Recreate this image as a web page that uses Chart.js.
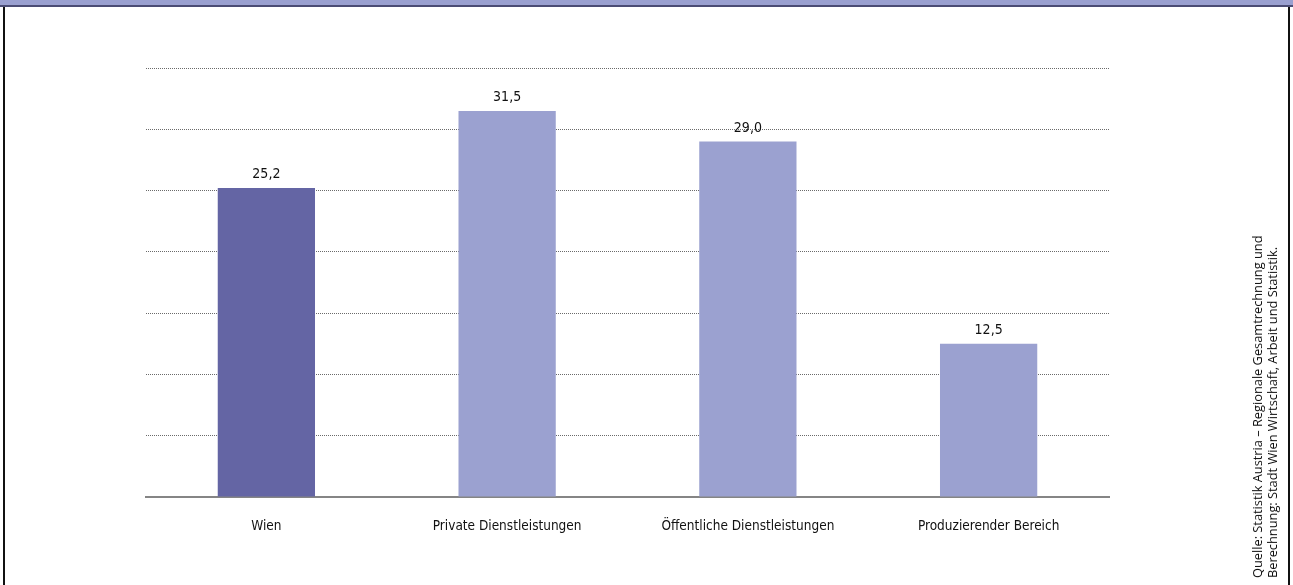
<!DOCTYPE html>
<html lang="de">
<head>
<meta charset="utf-8">
<title>Wien – Anteile</title>
<script src="https://cdn.jsdelivr.net/npm/chart.js@4/dist/chart.umd.min.js"></script>
<style>
  html, body { margin: 0; padding: 0; background: #fff; }
  body { width: 1293px; height: 585px; position: relative; overflow: hidden; }
  .header { position: absolute; left: 0; top: 0; width: 1293px; height: 5px; background: #9aa0d0; border-bottom: 2px solid #4b4c74; }
  .frame-l { position: absolute; left: 3px; top: 7px; width: 2px; height: 578px; background: #111; }
  .frame-r { position: absolute; left: 1288px; top: 7px; width: 2px; height: 578px; background: #111; }
  .wrap { position: absolute; left: 0; top: 0; width: 1293px; height: 585px; }
  .source {
    position: absolute; left: 1250px; top: 578px;
    transform-origin: 0 0; transform: rotate(-90deg);
    white-space: nowrap; font: 12.8px "Open Sans", sans-serif; line-height: 15px; color: #111;
  }
</style>
</head>
<body>
<div class="header"></div>
<div class="frame-l"></div>
<div class="frame-r"></div>
<div class="wrap"><canvas id="chart"></canvas></div>
<div class="source">Quelle: Statistik Austria – Regionale Gesamtrechnung und<br>Berechnung: Stadt Wien Wirtschaft, Arbeit und Statistik.</div>
<script>
const categories = ["Wien", "Private Dienstleistungen", "Öffentliche Dienstleistungen", "Produzierender Bereich"];
const values = [25.2, 31.5, 29.0, 12.5];
const barColors = ["#6465a4", "#9ba1d0", "#9ba1d0", "#9ba1d0"];
const yTicks = [0, 5, 10, 15, 20, 25, 30, 35];

const FONT = '"Liberation Sans Narrow", "DejaVu Sans Condensed", sans-serif';
const decimal = new Intl.NumberFormat("de-AT", { minimumFractionDigits: 1, maximumFractionDigits: 1 });

const valueLabels = {
  id: "valueLabels",
  afterDatasetsDraw(chart) {
    const { ctx } = chart;
    const meta = chart.getDatasetMeta(0);
    ctx.save();
    ctx.font = `14px ${FONT}`;
    ctx.fillStyle = "#111";
    ctx.textAlign = "center";
    ctx.textBaseline = "alphabetic";
    meta.data.forEach((bar, i) => {
      ctx.fillText(decimal.format(values[i]), bar.x, bar.y - 10);
    });
    ctx.restore();
  },
};

new Chart(document.getElementById("chart"), {
  type: "bar",
  data: {
    labels: categories,
    datasets: [
      {
        data: values,
        backgroundColor: barColors,
        borderWidth: 0,
        barPercentage: 0.404,
        categoryPercentage: 1,
      },
    ],
  },
  options: {
    responsive: true,
    maintainAspectRatio: false,
    animation: false,
    layout: { padding: { left: 146, right: 184, top: 68, bottom: 0 } },
    plugins: {
      legend: { display: false },
      tooltip: { enabled: false },
    },
    scales: {
      x: {
        grid: { display: false },
        border: { display: true, color: "#858585", width: 2 },
        ticks: {
          color: "#111",
          font: { family: FONT, size: 13.5 },
          padding: 13,
          maxRotation: 0,
        },
        afterFit: (scale) => { scale.height = 88; },
      },
      y: {
        min: 0,
        max: 35,
        afterBuildTicks: (scale) => { scale.ticks = yTicks.map((v) => ({ value: v })); },
        ticks: { display: false },
        grid: { color: "#6a6a6a", lineWidth: 1, drawTicks: false, tickLength: 0 },
        border: { display: false, dash: [1, 1] },
        afterFit: (scale) => { scale.width = 0; },
      },
    },
  },
  plugins: [valueLabels],
});
</script>
</body>
</html>
